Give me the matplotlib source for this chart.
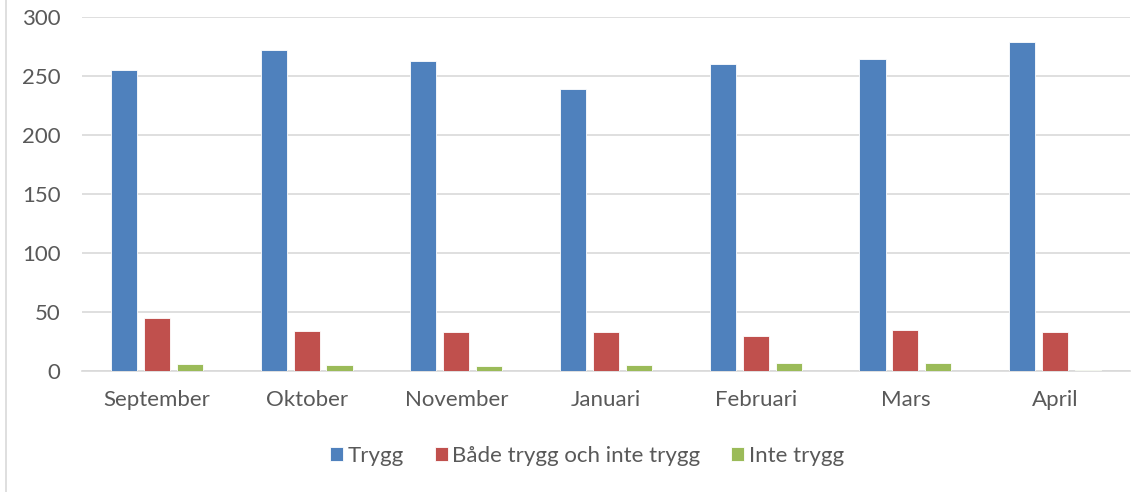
import matplotlib.pyplot as plt
import numpy as np
from matplotlib.lines import Line2D

months = ['September', 'Oktober', 'November', 'Januari', 'Februari', 'Mars', 'April']
trygg = [255, 272, 263, 239, 260, 264, 279]
bade = [45, 34, 33, 33, 30, 35, 33]
inte = [6, 5, 4, 5, 7, 7, 1]
series_names = ['Trygg', 'Både trygg och inte trygg', 'Inte trygg']
colors = ['#4f81bd', '#c0504d', '#9bbb59']

plt.rcParams['font.family'] = ['Lato', 'DejaVu Sans']
txt = '#595959'

fig = plt.figure(figsize=(11.48, 4.92), dpi=100)
ax = fig.add_axes([82/1148, 1-371/492, (1130-82)/1148, (371-17)/492])

x = np.arange(len(months))
w = 0.174
step = 0.22
for i, (vals, name) in enumerate(zip([trygg, bade, inte], series_names)):
    ax.bar(x + (i-1)*step, vals, w, color=colors[i], label=name,
           edgecolor='white', linewidth=0.6, zorder=3)

ax.set_xlim(-0.5, len(months)-0.5)
ax.set_ylim(0, 300)
ax.set_yticks(range(0, 301, 50))
ax.yaxis.grid(True, color='#d9d9d9', linewidth=1.2, zorder=0)
ax.set_xticks(x)
ax.set_xticklabels(months)
ax.tick_params(axis='both', length=0, labelsize=16, labelcolor=txt)
ax.tick_params(axis='x', pad=14)
ax.tick_params(axis='y', pad=15.5)
for s in ['top', 'right', 'left']:
    ax.spines[s].set_visible(False)
ax.spines['bottom'].set_color('#d9d9d9')
ax.spines['bottom'].set_linewidth(1.2)

leg = fig.legend(loc='center', bbox_to_anchor=(587/1148, 1-456/492), ncol=3, frameon=False,
                 fontsize=16, handlelength=0.58, handleheight=0.58, handletextpad=0.2,
                 columnspacing=1.4, borderpad=0)
for t in leg.get_texts():
    t.set_color(txt)

fig.add_artist(Line2D([6/1148, 6/1148], [0, 1], color='#d9d9d9', linewidth=1.2))

fig.savefig('out.png', dpi=100)
